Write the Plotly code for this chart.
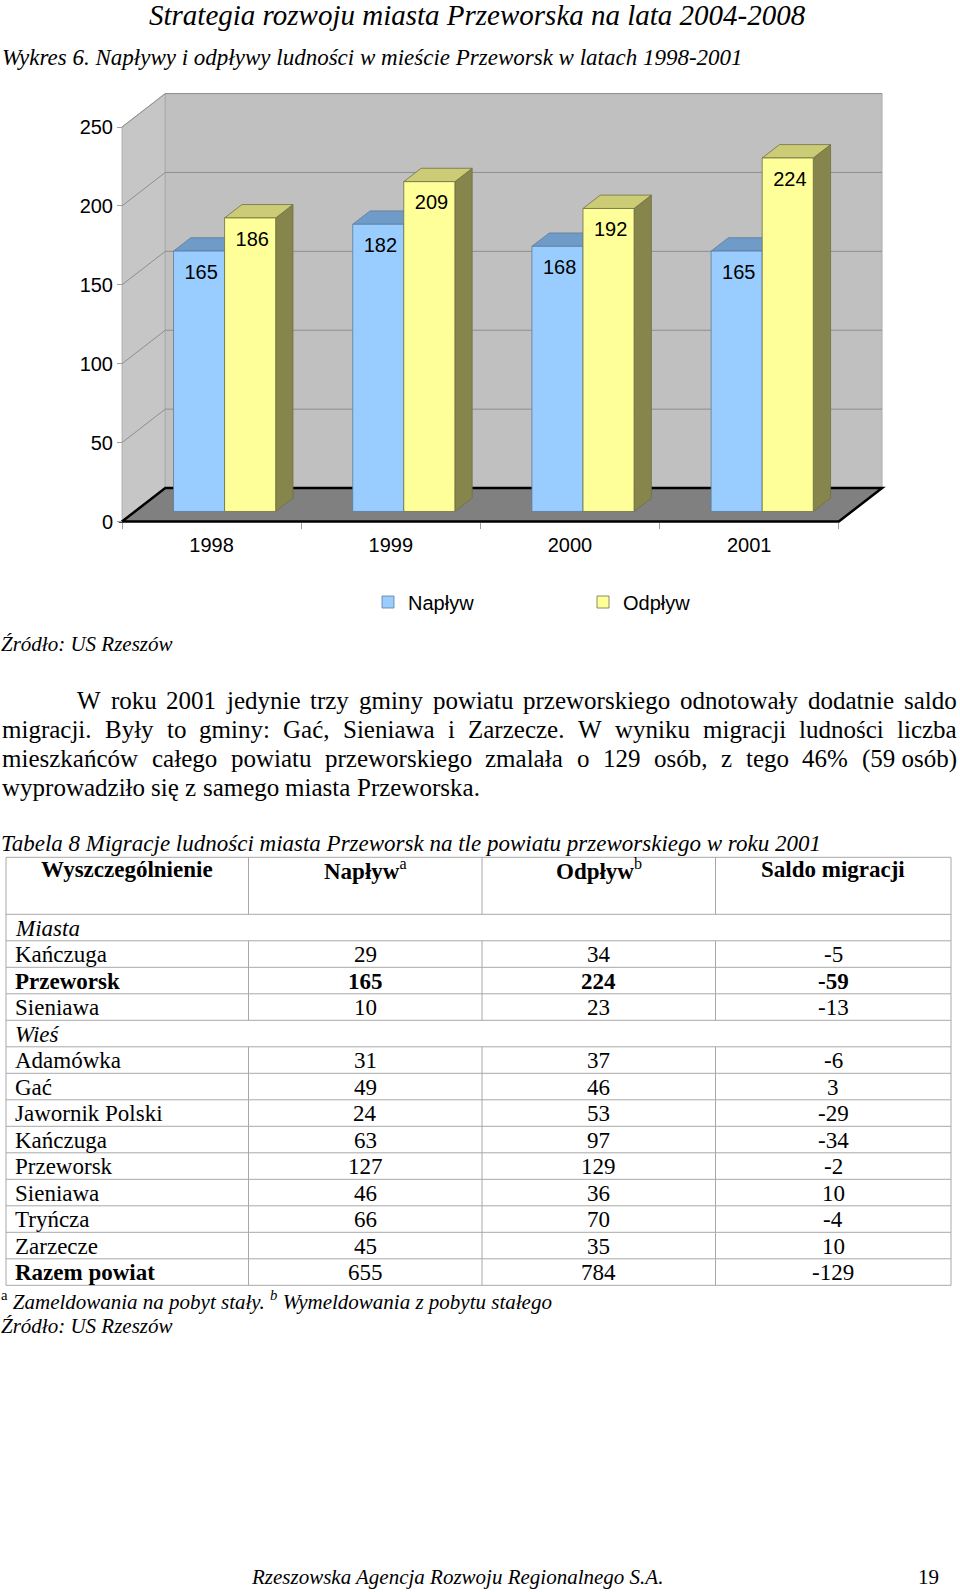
import plotly.graph_objects as go

# ---------------- data ----------------
years = ["1998", "1999", "2000", "2001"]
naplyw_chart = [165, 182, 168, 165]
odplyw_chart = [186, 209, 192, 224]
y_ticks = [0, 50, 100, 150, 200, 250]
series_names = ["Napływ", "Odpływ"]

tbl_header = ["Wyszczególnienie", "Napływ<sup>a</sup>", "Odpływ<sup>b</sup>", "Saldo migracji"]
tbl_labels = ["Miasta", "Kańczuga", "Przeworsk", "Sieniawa", "Wieś", "Adamówka", "Gać",
              "Jawornik Polski", "Kańczuga", "Przeworsk", "Sieniawa", "Tryńcza", "Zarzecze",
              "Razem powiat"]
tbl_naplyw = [None, 29, 165, 10, None, 31, 49, 24, 63, 127, 46, 66, 45, 655]
tbl_odplyw = [None, 34, 224, 23, None, 37, 46, 53, 97, 129, 36, 70, 35, 784]
tbl_saldo = [None, -5, -59, -13, None, -6, 3, -29, -34, -2, 10, -4, 10, -129]
tbl_kind = ["group", "row", "bold", "row", "group", "row", "row", "row", "row", "row",
            "row", "row", "row", "bold"]

para_lines = [
    "W roku 2001 jedynie trzy gminy powiatu przeworskiego odnotowały dodatnie saldo",
    "migracji. Były to gminy: Gać, Sieniawa i Zarzecze. W wyniku migracji ludności liczba",
    "mieszkańców całego powiatu przeworskiego zmalała o 129 osób, z tego 46% (59\u00a0osób)",
    "wyprowadziło się z samego miasta Przeworska.",
]

# ---------------- layout constants ----------------
W, H = 960, 1592
PX0, PXU = 122.0, 179.2      # front origin (px) and px per category
PY0, PYU = 521.5, 1.578      # front zero line (px) and px per unit
DX, DY = 0.2416, 21.2        # depth of the 3-D box (data units)
BAR_W = 0.285
F_FRONT, F_DEPTH = 0.3, 0.4
CH_L, CH_R, CH_T, CH_B = 90, 910, 70, 570

SANS = "Liberation Sans"
SERIF = "Liberation Serif"

def px2x(px):
    return (px - PX0) / PXU

def py2y(py):
    return (PY0 - py) / PYU

def yp(py):
    return 1 - py / H

shapes = []
annotations = []

def path(pts):
    return "M " + " L ".join(f"{x:.4f},{y:.4f}" for x, y in pts) + " Z"

def add_poly(pts, fill, lc, lw, xref="x", yref="y", layer="below"):
    shapes.append(dict(type="path", path=path(pts), xref=xref, yref=yref,
                       fillcolor=fill, line=dict(color=lc, width=lw), layer=layer))

def add_line(x0, y0, x1, y1, color, width, xref="x", yref="y", layer="below"):
    shapes.append(dict(type="line", x0=x0, y0=y0, x1=x1, y1=y1, xref=xref, yref=yref,
                       line=dict(color=color, width=width), layer=layer))

# ---------------- 3-D box: walls, grid, floor ----------------
n = len(years)
top = y_ticks[-1]
add_poly([(0, 0), (0, top), (DX, top + DY), (DX, DY)], "#c6c6c6", "#a6a6a6", 0.8)
add_poly([(DX, DY), (n + DX, DY), (n + DX, top + DY), (DX, top + DY)], "#c0c0c0", "#a6a6a6", 0.8)
for v in y_ticks[1:]:
    add_line(DX, v + DY, n + DX, v + DY, "#8e8e8e", 1)
    add_line(0, v, DX, v + DY, "#8e8e8e", 1)
add_poly([(0, 0), (n, 0), (n + DX, DY), (DX, DY)], "#808080", "#000000", 2.5)

# ---------------- bar side / top faces ----------------
face_cols = [dict(front="#99ccff", top="#6f9bc8", side="#4f7aa8", line="#5c7c9c"),
             dict(front="#ffff99", top="#cccc77", side="#86864c", line="#6f6f45")]
series_vals = [naplyw_chart, odplyw_chart]
ddx, ddy = F_DEPTH * DX, F_DEPTH * DY
b = F_FRONT * DY

def bar_left(i, s):
    return i + 0.5 - BAR_W + s * BAR_W + F_FRONT * DX

for i in range(n):
    for s in range(2):
        v = series_vals[s][i]
        x0 = bar_left(i, s)
        x1 = x0 + BAR_W
        t = b + v
        c = face_cols[s]
        add_poly([(x1, b), (x1, t), (x1 + ddx, t + ddy), (x1 + ddx, b + ddy)], c["side"], c["line"], 0.8)
        add_poly([(x0, t), (x1, t), (x1 + ddx, t + ddy), (x0 + ddx, t + ddy)], c["top"], c["line"], 0.8)

fig = go.Figure()
for s in range(2):
    xs = [bar_left(i, s) + BAR_W / 2 for i in range(n)]
    fig.add_trace(go.Bar(
        x=xs, y=series_vals[s], base=b, width=BAR_W, name=series_names[s],
        marker=dict(color=face_cols[s]["front"], line=dict(color=face_cols[s]["line"], width=0.8)),
        hoverinfo="skip"))
    fig.add_trace(go.Scatter(
        x=[x + 0.012 for x in xs], y=[v + b - 14.3 for v in series_vals[s]],
        mode="text", text=[str(v) for v in series_vals[s]],
        textfont=dict(family=SANS, size=20, color="#000000"),
        showlegend=False, hoverinfo="skip", cliponaxis=False))

# ---------------- table ----------------
COL_X = [6, 248.5, 482, 715.5, 951]
TB_T = 857.3
HEAD_H = 57.0
ROW_H = 26.5
n_rows = len(tbl_labels)
TB_B = TB_T + HEAD_H + n_rows * ROW_H
LINE_C = "#a8a8a8"
fig.add_trace(go.Scatter(x=[0], y=[0], xaxis="x2", yaxis="y2", mode="markers",
                         marker=dict(size=1, color="rgba(0,0,0,0)"), showlegend=False, hoverinfo="skip"))

row_edges = [0, HEAD_H] + [HEAD_H + (k + 1) * ROW_H for k in range(n_rows)]
for e in row_edges:
    add_line(COL_X[0], e, COL_X[-1], e, LINE_C, 1, "x2", "y2", "above")
add_line(COL_X[0], 0, COL_X[0], row_edges[-1], LINE_C, 1, "x2", "y2", "above")
add_line(COL_X[-1], 0, COL_X[-1], row_edges[-1], LINE_C, 1, "x2", "y2", "above")
for cx in COL_X[1:-1]:
    add_line(cx, 0, cx, HEAD_H, LINE_C, 1, "x2", "y2", "above")
    for k in range(n_rows):
        if tbl_kind[k] != "group":
            add_line(cx, HEAD_H + k * ROW_H, cx, HEAD_H + (k + 1) * ROW_H, LINE_C, 1, "x2", "y2", "above")

col_mid = [(COL_X[j] + COL_X[j + 1]) / 2 for j in range(4)]
for j, h in enumerate(tbl_header):
    if "<sup>" in h:
        main, sup = h.split("<sup>")
        txt = f"<b>{main}</b><sup>{sup}"
    else:
        txt = f"<b>{h}</b>"
    annotations.append(dict(x=col_mid[j], y=12.6, xref="x2", yref="y2", text=txt, showarrow=False,
                            xanchor="center", yanchor="middle", borderpad=0,
                            font=dict(family=SERIF, size=23, color="#000000")))
for k in range(n_rows):
    yc = HEAD_H + (k + 0.5) * ROW_H + 0.5
    kind = tbl_kind[k]
    lab = tbl_labels[k]
    if kind == "group":
        lab = f"<i>{lab}</i>"
    elif kind == "bold":
        lab = f"<b>{lab}</b>"
    annotations.append(dict(x=COL_X[0] + 7.5, y=yc, xref="x2", yref="y2", text=lab, showarrow=False,
                            xanchor="left", yanchor="middle", borderpad=0,
                            font=dict(family=SERIF, size=23, color="#000000")))
    for j, col in enumerate([tbl_naplyw, tbl_odplyw, tbl_saldo]):
        v = col[k]
        if v is None:
            continue
        t = str(v)
        if kind == "bold" and k != n_rows - 1:
            t = f"<b>{t}</b>"
        annotations.append(dict(x=col_mid[j + 1], y=yc, xref="x2", yref="y2", text=t, showarrow=False,
                                xanchor="center", yanchor="middle", borderpad=0,
                                font=dict(family=SERIF, size=23, color="#000000")))

# ---------------- page texts ----------------
def add_text(txt, x, y, size, family=SERIF, anchor="left"):
    annotations.append(dict(x=x / W, y=yp(y), xref="paper", yref="paper", text=txt, showarrow=False,
                            xanchor=anchor, yanchor="middle", borderpad=0,
                            font=dict(family=family, size=size, color="#000000")))

add_text("<i>Strategia rozwoju miasta Przeworska na lata 2004-2008</i>", 477, 15, 29, anchor="center")
add_text("<i>Wykres 6. Napływy i odpływy ludności w mieście Przeworsk w latach 1998-2001</i>", 1, 57, 23)
add_text("<i>Źródło: US Rzeszów</i>", 0, 644, 21)
add_text("<i>Tabela 8 Migracje ludności miasta Przeworsk na tle powiatu przeworskiego w roku 2001</i>", 0, 843, 23)
add_text("<sup>a</sup><i> Zameldowania na pobyt stały. </i><sup><i>b</i></sup><i> Wymeldowania z pobytu stałego</i>",
         0, 1300, 21)
add_text("<i>Źródło: US Rzeszów</i>", 0, 1326, 21)
add_text("<i>Rzeszowska Agencja Rozwoju Regionalnego S.A.</i>", 457, 1577, 21, anchor="center")
add_text("19", 928, 1577, 21, anchor="center")

# justified paragraph (Times / Liberation Serif metrics, 1/1000 em)
TW = {" ": 250, "\u00a0": 250, "%": 833, "(": 333, ")": 333, ",": 250, "-": 333, ".": 250, ":": 278,
      "A": 722, "B": 667, "C": 667, "D": 722, "E": 611, "F": 556, "G": 722, "H": 722, "I": 333,
      "J": 389, "K": 722, "L": 611, "M": 889, "N": 722, "O": 722, "P": 556, "R": 667, "S": 556,
      "T": 611, "U": 722, "W": 944, "Z": 611,
      "a": 444, "b": 500, "c": 444, "d": 500, "e": 444, "f": 333, "g": 500, "h": 500, "i": 278,
      "j": 278, "k": 500, "l": 278, "m": 778, "n": 500, "o": 500, "p": 500, "q": 500, "r": 333,
      "s": 389, "t": 278, "u": 500, "v": 500, "w": 722, "x": 500, "y": 500, "z": 444,
      "ą": 444, "ć": 444, "ę": 444, "ł": 278, "ń": 500, "ó": 500, "ś": 389, "ź": 444, "ż": 444}

def text_w(s, size):
    return sum(TW.get(ch, 500) for ch in s) * size / 1000.0

P_SIZE = 25
P_LEFT, P_RIGHT, P_INDENT = 1, 956, 76
P_Y0, P_DY = 700.5, 29.0
for li, line in enumerate(para_lines):
    words = line.split(" ")
    left = P_INDENT if li == 0 else P_LEFT
    widths = [text_w(wd, P_SIZE) for wd in words]
    last = li == len(para_lines) - 1
    gap = text_w(" ", P_SIZE) if last else (P_RIGHT - left - sum(widths)) / (len(words) - 1)
    x = left
    for wd, wdt in zip(words, widths):
        add_text(wd, x, P_Y0 + li * P_DY, P_SIZE)
        x += wdt + gap

# ---------------- layout ----------------
fig.update_layout(
    width=W, height=H, autosize=False,
    margin=dict(l=0, r=0, t=0, b=0),
    paper_bgcolor="#ffffff", plot_bgcolor="rgba(0,0,0,0)",
    barmode="overlay", hovermode=False,
    shapes=shapes, annotations=annotations,
    xaxis=dict(domain=[CH_L / W, CH_R / W], range=[px2x(CH_L), px2x(CH_R)],
               anchor="free", position=yp(PY0),
               tickmode="array", tickvals=[i + 0.5 for i in range(n)], ticktext=years,
               ticks="outside", ticklen=5, tickcolor="rgba(0,0,0,0)",
               minor=dict(tickmode="array", tickvals=list(range(n + 1)), ticks="outside",
                          ticklen=6, tickcolor="#a0a0a0", showgrid=False),
               showgrid=False, zeroline=False, showline=False,
               tickfont=dict(family=SANS, size=20, color="#000000")),
    yaxis=dict(domain=[yp(CH_B), yp(CH_T)], range=[py2y(CH_B), py2y(CH_T)],
               anchor="free", position=PX0 / W,
               tickmode="array", tickvals=y_ticks, ticks="outside", ticklen=5, tickcolor="#a0a0a0",
               showgrid=False, zeroline=False, showline=False,
               tickfont=dict(family=SANS, size=20, color="#000000")),
    xaxis2=dict(domain=[0, 1], range=[0, W], anchor="y2", visible=False, fixedrange=True),
    yaxis2=dict(domain=[yp(TB_B + 3), yp(TB_T - 3)], range=[TB_B - TB_T + 3, -3],
                anchor="x2", visible=False, fixedrange=True),
    legend=dict(orientation="h", x=368 / W, y=yp(602), xanchor="left", yanchor="middle",
                font=dict(family=SANS, size=20, color="#000000"),
                bgcolor="rgba(0,0,0,0)", entrywidth=170, entrywidthmode="pixels",
                traceorder="normal"),
    showlegend=True,
)

fig.write_html("out.html")
